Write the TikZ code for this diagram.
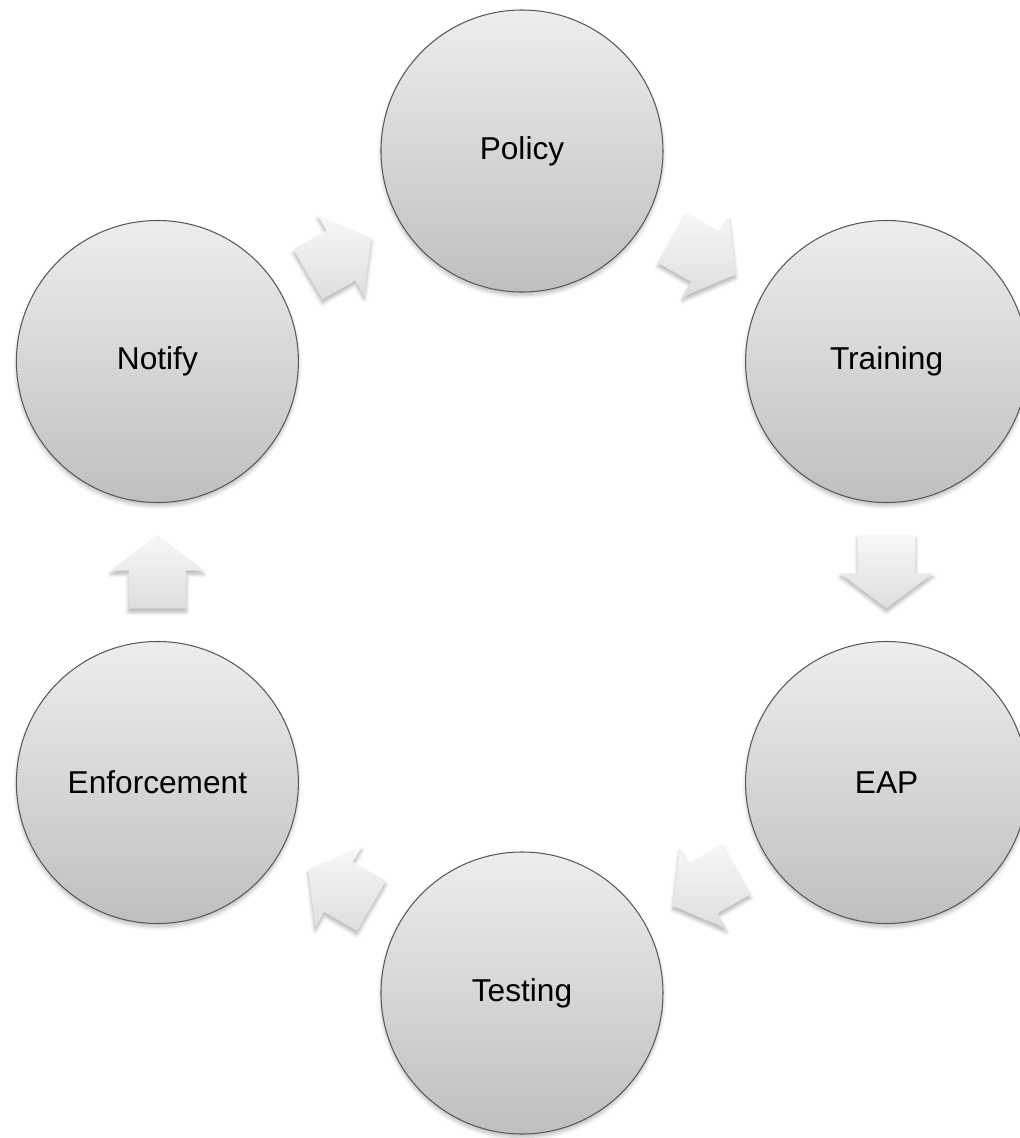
\documentclass[tikz,border=0pt]{standalone}
\usepackage{fontspec}
\setmainfont{Liberation Sans}
\usepackage{tikz}
\usetikzlibrary{shapes,arrows,positioning,calc,shadows.blur}

\tikzset{
    stage/.style={circle, draw=black!65, line width=0.6pt, minimum size=5.64cm,
        top color=gray!14, bottom color=gray!50, inner sep=0pt,
        font=\fontsize{18}{21}\selectfont,
        blur shadow={shadow xshift=0pt, shadow yshift=-2pt, shadow blur steps=6, shadow opacity=25}},
    flow/.style={single arrow, minimum height=1.46cm, inner xsep=0pt, inner ysep=0.57cm,
        single arrow head extend=0.35cm, single arrow tip angle=106,
        top color=gray!6, bottom color=gray!26, draw=none,
        blur shadow={shadow xshift=0pt, shadow yshift=-2pt, shadow blur steps=6, shadow opacity=30}}
}

\begin{document}
\begin{tikzpicture}
    \useasboundingbox (-10.44,-11.32) rectangle (9.96,11.44);

    % the six stages round the cycle
    \node[stage] (policy) at (90:8.42) {Policy};
    \node[stage] (training) at (30:8.42) {Training};
    \node[stage] (eap) at (-30:8.42) {EAP};
    \node[stage] (testing) at (-90:8.42) {Testing};
    \node[stage] (enforce) at (210:8.42) {Enforcement};
    \node[stage] (notify) at (150:8.42) {Notify};

    % block arrows between them
    \foreach \a/\b/\ang in {notify/policy/30, policy/training/-30, training/eap/-90,
        eap/testing/-150, testing/enforce/150, enforce/notify/90}
        \node[flow, rotate=\ang] (\a-\b) at ($(\a)!0.5!(\b)!0.22cm!(\a)$) {};
\end{tikzpicture}
\end{document}
